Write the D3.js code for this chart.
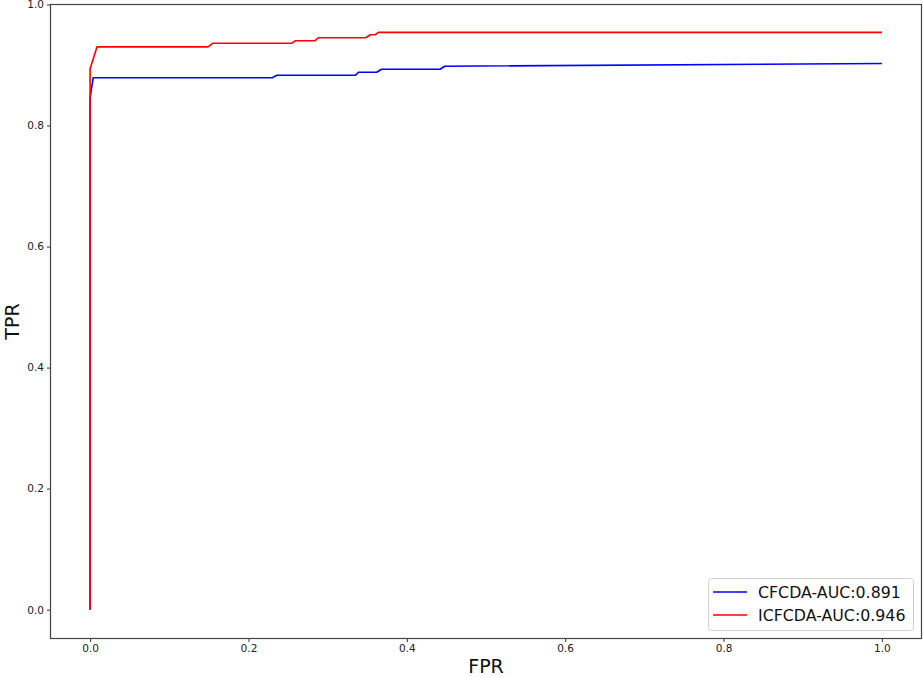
<!DOCTYPE html>
<html><head><meta charset="utf-8">
<script src="https://cdn.jsdelivr.net/npm/d3@7"></script>
<style>body{margin:0;background:#fff}svg{display:block}text{font-family:"DejaVu Sans",sans-serif}</style>
</head><body>
<svg id="c" width="923" height="677"></svg>
<script>
// Data
const seriesNames = ["CFCDA-AUC:0.891", "ICFCDA-AUC:0.946"];
const seriesColors = ["#0000ff", "#ff0000"];
const cfcdaFPR = [0, 0, 0.004, 0.230, 0.236, 0.335, 0.339, 0.362, 0.368, 0.442, 0.448, 1.0];
const cfcdaTPR = [0, 0.846, 0.879, 0.879, 0.883, 0.883, 0.888, 0.888, 0.893, 0.893, 0.898, 0.9025];
const icfcdaFPR = [0, 0, 0.0088, 0.149, 0.155, 0.255, 0.259, 0.284, 0.288, 0.348, 0.354, 0.360, 0.364, 1.0];
const icfcdaTPR = [0, 0.894, 0.930, 0.930, 0.936, 0.936, 0.940, 0.940, 0.945, 0.945, 0.950, 0.950, 0.954, 0.954];
const xTicks = [0.0, 0.2, 0.4, 0.6, 0.8, 1.0];
const yTicks = [0.0, 0.2, 0.4, 0.6, 0.8, 1.0];

const svg = d3.select("#c");
const L = 50.5, R = 921.5, T = 4.5, B = 638.5;
const x = d3.scaleLinear().domain([-0.05, 1.05]).range([L, R]);
const y = d3.scaleLinear().domain([-0.0477, 1.0]).range([B, T]);

const xAxis = svg.append("g").attr("transform", `translate(0,${B})`)
  .call(d3.axisBottom(x).tickValues(xTicks).tickFormat(d3.format(".1f")).tickSize(3.5).tickPadding(3));
const yAxis = svg.append("g").attr("transform", `translate(${L},0)`)
  .call(d3.axisLeft(y).tickValues(yTicks).tickFormat(d3.format(".1f")).tickSize(3.5).tickPadding(3));
[xAxis, yAxis].forEach(a => {
  a.select(".domain").remove();
  a.selectAll("text").attr("font-size", 10.5).attr("fill", "#222").style("font-family", "DejaVu Sans");
  a.selectAll("line").attr("stroke", "#333");
});

const series = [
  d3.zip(cfcdaFPR, cfcdaTPR),
  d3.zip(icfcdaFPR, icfcdaTPR)
];
const line = d3.line().x(d => x(d[0])).y(d => y(d[1]));
series.forEach((s, i) => {
  svg.append("path").datum(s).attr("d", line).attr("fill", "none")
    .attr("stroke", seriesColors[i]).attr("stroke-width", 1.6).attr("stroke-linejoin", "round");
});

svg.append("rect").attr("x", L).attr("y", T).attr("width", R - L).attr("height", B - T)
  .attr("fill", "none").attr("stroke", "#444").attr("stroke-width", 1.2);

svg.append("text").attr("x", (L + R) / 2).attr("y", 673).attr("text-anchor", "middle")
  .attr("font-size", 19).attr("fill", "#111").text("FPR");
svg.append("text").attr("transform", `translate(19,${(T + B) / 2}) rotate(-90)`).attr("text-anchor", "middle")
  .attr("font-size", 19).attr("fill", "#111").text("TPR");

// legend
const lg = svg.append("g");
lg.append("rect").attr("x", 708.5).attr("y", 578.5).attr("width", 205).attr("height", 52).attr("rx", 3)
  .attr("fill", "#fff").attr("fill-opacity", 0.8).attr("stroke", "#d0d0d0");
seriesNames.forEach((n, i) => {
  const yy = 592 + i * 23;
  lg.append("line").attr("x1", 713).attr("x2", 747).attr("y1", yy).attr("y2", yy)
    .attr("stroke", seriesColors[i]).attr("stroke-width", 1.6);
  lg.append("text").attr("x", 758).attr("y", yy + 5.5).attr("font-size", 15.8).attr("fill", "#111").text(n);
});
</script>
</body></html>
